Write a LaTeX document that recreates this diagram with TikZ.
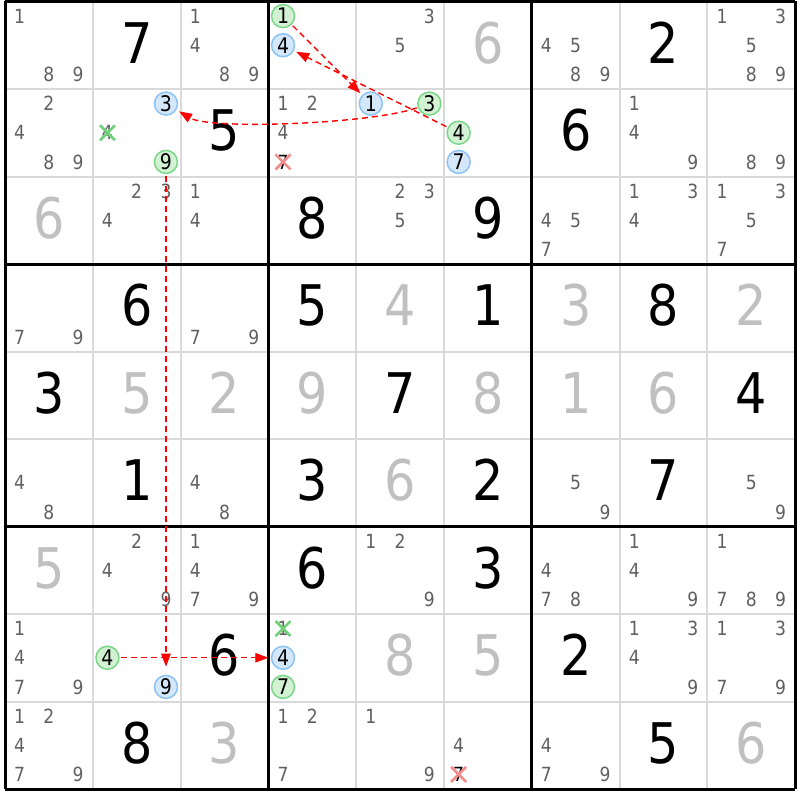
\documentclass[tikz,border=0pt]{standalone}
\usepackage{fontspec}
\setmainfont{DejaVu Sans}[FakeStretch=0.88]
\usetikzlibrary{arrows.meta}
\definecolor{candc}{HTML}{606060}
\definecolor{givc}{HTML}{C0C0C0}
\definecolor{thinc}{HTML}{D9D9D9}
\definecolor{bfill}{HTML}{D5E8FB}
\definecolor{bline}{HTML}{8DC2F5}
\definecolor{gfill}{HTML}{D3F1D3}
\definecolor{gline}{HTML}{7CD68A}
\definecolor{xred}{HTML}{F28B8B}
\definecolor{xgreen}{HTML}{6FD27A}
\newcommand\gXO{5}
\newcommand\gYO{1.5}
\newcommand\gCW{87.8}
\newcommand\gCH{87.5}
\newcommand\SolvD[4]{\node[#4] (s#1#2) at ({\gXO+(#2-0.5)*\gCW},{\gYO+(#1-0.5)*\gCH-2.5}) {#3};}
\newcommand\CandL[3]{\foreach \dg in {#3}{\pgfmathtruncatemacro\kk{mod(\dg-1,3)}\pgfmathtruncatemacro\jj{(\dg-1)/3}\node[cand] (c#1#2\dg) at ({\gXO+(#2-1)*\gCW+(\kk+0.5)*\gCW/3},{\gYO+(#1-1)*\gCH+(\jj+0.5)*\gCH/3}) {\dg};}}
\newcommand\CandC[4]{\pgfmathtruncatemacro\kk{mod(#3-1,3)}\pgfmathtruncatemacro\jj{(#3-1)/3}\node[#4] (c#1#2#3) at ({\gXO+(#2-1)*\gCW+(\kk+0.5)*\gCW/3},{\gYO+(#1-1)*\gCH+(\jj+0.5)*\gCH/3}) {#3};}
\newcommand\CandX[5]{\CandC{#1}{#2}{#3}{cand,text=#5}\draw[xmk,#4] (c#1#2#3.center) ++(-7.5,-7.5) -- ++(15,15) (c#1#2#3.center) ++(-7.5,7.5) -- ++(15,-15);}
\begin{document}
\begin{tikzpicture}[x=1pt,y=-1pt,
  bigd/.style={font=\fontsize{56}{56}\selectfont, text height=41pt, text depth=0pt, inner sep=0pt, anchor=center},
  solved/.style={bigd, text=black},
  given/.style={bigd, text=givc},
  cand/.style={font=\fontsize{19.5}{19.5}\selectfont, text=candc, text height=14.2pt, text depth=0pt, inner sep=0pt, anchor=center},
  circd/.style={cand, font=\fontsize{21.5}{21.5}\selectfont, text height=15.7pt, text=black, circle, line width=1.5pt, minimum size=23pt},
  bcirc/.style={circd, draw=bline, fill=bfill},
  gcirc/.style={circd, draw=gline, fill=gfill},
  chain/.style={red, line width=1.4pt, dash pattern=on 6pt off 4pt, -{Triangle[length=13pt,width=9.5pt]}},
  xmk/.style={line width=2.6pt},
  thinl/.style={thinc, line width=2pt},
  thickl/.style={black, line width=3pt, line cap=square}]
\useasboundingbox (0,0) rectangle (800,800);
\fill[white] (0,0) rectangle (800,800);
% grid
\foreach \i in {1,2,4,5,7,8}{
  \draw[thinl] ({\gXO+\i*\gCW},\gYO) -- ({\gXO+\i*\gCW},{\gYO+9*\gCH});
  \draw[thinl] (\gXO,{\gYO+\i*\gCH}) -- ({\gXO+9*\gCW},{\gYO+\i*\gCH});
}
\foreach \i in {0,3,6,9}{
  \draw[thickl] ({\gXO+\i*\gCW},\gYO) -- ({\gXO+\i*\gCW},{\gYO+9*\gCH});
  \draw[thickl] (\gXO,{\gYO+\i*\gCH}) -- ({\gXO+9*\gCW},{\gYO+\i*\gCH});
}
% big digits
\SolvD{1}{2}{7}{solved}\SolvD{1}{6}{6}{given}\SolvD{1}{8}{2}{solved}
\SolvD{2}{3}{5}{solved}\SolvD{2}{7}{6}{solved}
\SolvD{3}{1}{6}{given}\SolvD{3}{4}{8}{solved}\SolvD{3}{6}{9}{solved}
\SolvD{4}{2}{6}{solved}\SolvD{4}{4}{5}{solved}\SolvD{4}{5}{4}{given}\SolvD{4}{6}{1}{solved}
\SolvD{4}{7}{3}{given}\SolvD{4}{8}{8}{solved}\SolvD{4}{9}{2}{given}
\SolvD{5}{1}{3}{solved}\SolvD{5}{2}{5}{given}\SolvD{5}{3}{2}{given}\SolvD{5}{4}{9}{given}
\SolvD{5}{5}{7}{solved}\SolvD{5}{6}{8}{given}\SolvD{5}{7}{1}{given}\SolvD{5}{8}{6}{given}\SolvD{5}{9}{4}{solved}
\SolvD{6}{2}{1}{solved}\SolvD{6}{4}{3}{solved}\SolvD{6}{5}{6}{given}\SolvD{6}{6}{2}{solved}\SolvD{6}{8}{7}{solved}
\SolvD{7}{1}{5}{given}\SolvD{7}{4}{6}{solved}\SolvD{7}{6}{3}{solved}
\SolvD{8}{3}{6}{solved}\SolvD{8}{5}{8}{given}\SolvD{8}{6}{5}{given}\SolvD{8}{7}{2}{solved}
\SolvD{9}{2}{8}{solved}\SolvD{9}{3}{3}{given}\SolvD{9}{8}{5}{solved}\SolvD{9}{9}{6}{given}
% candidates
\CandL{1}{1}{1,8,9}\CandL{1}{3}{1,4,8,9}\CandL{1}{5}{3,5}\CandL{1}{7}{4,5,8,9}\CandL{1}{9}{1,3,5,8,9}
\CandC{1}{4}{1}{gcirc}\CandC{1}{4}{4}{bcirc}
\CandL{2}{1}{2,4,8,9}\CandL{2}{4}{1,2,4}\CandL{2}{8}{1,4,9}\CandL{2}{9}{8,9}
\CandC{2}{2}{3}{bcirc}\CandC{2}{2}{9}{gcirc}\CandX{2}{2}{4}{xgreen}{candc}
\CandX{2}{4}{7}{xred}{black}
\CandC{2}{5}{1}{bcirc}\CandC{2}{5}{3}{gcirc}
\CandC{2}{6}{4}{gcirc}\CandC{2}{6}{7}{bcirc}
\CandL{3}{2}{2,3,4}\CandL{3}{3}{1,4}\CandL{3}{5}{2,3,5}\CandL{3}{7}{4,5,7}\CandL{3}{8}{1,3,4}\CandL{3}{9}{1,3,5,7}
\CandL{4}{1}{7,9}\CandL{4}{3}{7,9}
\CandL{6}{1}{4,8}\CandL{6}{3}{4,8}\CandL{6}{7}{5,9}\CandL{6}{9}{5,9}
\CandL{7}{2}{2,4,9}\CandL{7}{3}{1,4,7,9}\CandL{7}{5}{1,2,9}\CandL{7}{7}{4,7,8}\CandL{7}{8}{1,4,9}\CandL{7}{9}{1,7,8,9}
\CandL{8}{1}{1,4,7,9}\CandL{8}{8}{1,3,4,9}\CandL{8}{9}{1,3,7,9}
\CandC{8}{2}{4}{gcirc}\CandC{8}{2}{9}{bcirc}
\CandX{8}{4}{1}{xgreen}{candc}\CandC{8}{4}{4}{bcirc}\CandC{8}{4}{7}{gcirc}
\CandL{9}{1}{1,2,4,7,9}\CandL{9}{4}{1,2,7}\CandL{9}{5}{1,9}\CandL{9}{6}{4}\CandL{9}{7}{4,7,9}
\CandX{9}{6}{7}{xred}{black}
% chains
\draw[chain, shorten <=1.5pt, shorten >=2.5pt] (c141) -- (c251);
\draw[chain, shorten <=1.5pt, shorten >=2.5pt] (c264) -- (c144);
\draw[chain, shorten <=1pt, shorten >=3pt] (c253) .. controls (370,124) and (210,130) .. (c223);
\draw[chain, shorten <=1.5pt, shorten >=8pt] (c229) -- (c829);
\draw[chain, shorten <=1.5pt, shorten >=2.5pt] (c824) -- (c844);
\end{tikzpicture}
\end{document}
